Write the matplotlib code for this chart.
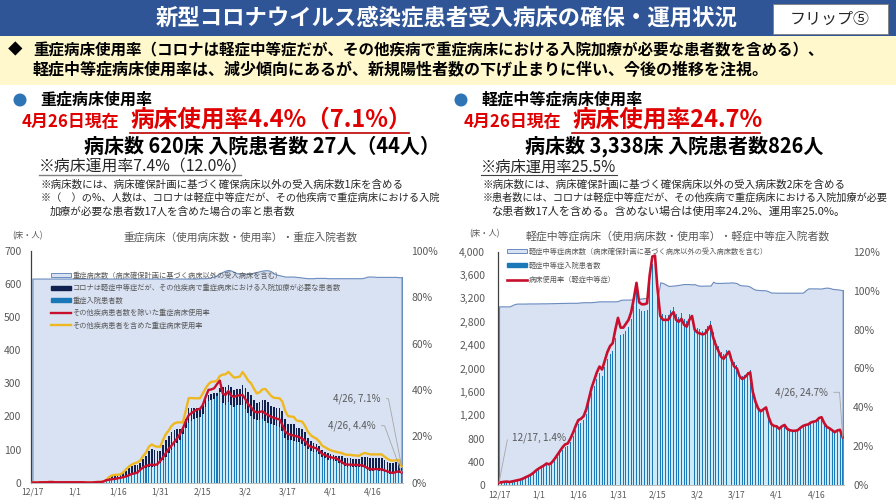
import matplotlib
matplotlib.use('Agg')
import matplotlib.pyplot as plt
from matplotlib.patches import Rectangle, Circle, Patch
from matplotlib.lines import Line2D

plt.rcParams['font.family'] = ['Noto Sans CJK JP', 'DejaVu Sans']

date_ticks = ['12/17', '1/1', '1/16', '1/31', '2/15', '3/2', '3/17', '4/1', '4/16']

# severe beds chart, one value per day 12/17 - 4/26
severe_beds = [616, 616, 616, 616, 616, 616, 616, 616, 616, 616, 616, 616, 616, 616, 616, 616,
               616, 616, 616, 616, 616, 616, 616, 616, 616, 616, 616, 616, 616, 616, 616, 616,
               616, 616, 616, 616, 616, 616, 616, 616, 616, 616, 616, 616, 616, 616, 616, 616,
               616, 616, 616, 616, 616, 616, 616, 616, 616, 616, 616, 617, 617, 617, 618, 620,
               622, 626, 632, 636, 640, 642, 640, 636, 632, 632, 632, 630, 630, 632, 634, 636,
               638, 640, 641, 641, 638, 632, 628, 626, 624, 622, 622, 622, 622, 621, 620, 619,
               618, 617, 617, 617, 618, 618, 618, 618, 617, 617, 617, 617, 617, 617, 617, 617,
               617, 617, 617, 617, 617, 619, 622, 622, 622, 621, 621, 621, 621, 621, 621, 621,
               621, 620, 620]
severe_patients = [0, 0, 0, 0, 0, 0, 0, 0, 0, 0, 0, 0, 0, 0, 0, 0, 0, 0, 0, 0, 0, 0, 0, 0, 0,
                   3, 7, 8, 9, 10, 12, 13, 15, 17, 20, 24, 25, 27, 35, 41, 45, 47, 48, 47, 50,
                   58, 68, 79, 91, 99, 109, 119, 130, 146, 164, 180, 186, 191, 196, 197, 208,
                   229, 248, 249, 252, 263, 273, 239, 234, 245, 233, 229, 233, 234, 234, 223,
                   210, 201, 191, 188, 189, 191, 185, 181, 176, 174, 171, 169, 155, 136, 130,
                   128, 126, 124, 122, 118, 112, 101, 96, 94, 92, 86, 77, 74, 70, 68, 66, 65,
                   60, 55, 50, 48, 48, 48, 48, 47, 47, 43, 39, 36, 36, 37, 36, 36, 33, 30, 27,
                   26, 29, 30, 27]
severe_other = [0, 0, 0, 0, 0, 0, 0, 0, 0, 0, 0, 0, 0, 0, 0, 0, 0, 0, 0, 0, 0, 0, 0, 0, 0, 0, 0,
                7, 10, 11, 9, 9, 13, 19, 24, 25, 27, 27, 25, 30, 36, 49, 54, 51, 47, 38, 47, 51,
                49, 53, 50, 42, 31, 16, 28, 46, 40, 35, 30, 29, 31, 23, 16, 20, 18, 9, 12, 50,
                55, 51, 56, 51, 50, 50, 61, 62, 63, 64, 60, 51, 53, 58, 66, 61, 56, 53, 55, 56,
                62, 56, 48, 49, 50, 42, 43, 45, 40, 35, 31, 27, 26, 25, 22, 20, 20, 19, 18, 17,
                20, 25, 26, 26, 26, 25, 25, 25, 30, 36, 38, 40, 40, 39, 40, 40, 37, 33, 33, 33,
                32, 30, 17]
severe_rate_excl = [0.1, 0.1, 0.1, 0.2, 0.2, 0.2, 0.3, 0.3, 0.2, 0.2, 0.2, 0.2, 0.2, 0.2, 0.2, 0.2,
                    0.2, 0.2, 0.2, 0.1, 0.1, 0.1, 0.2, 0.3, 0.3, 0.5, 1.1, 1.3, 1.5, 1.6, 1.9, 2.1,
                    2.4, 2.7, 3.2, 3.8, 4.0, 4.4, 5.6, 6.6, 7.2, 7.6, 7.8, 7.6, 8.0, 9.3, 11, 12.8,
                    14.6, 16, 17.6, 19.2, 21, 23.5, 26.5, 29, 30, 30.8, 31.6, 31.8, 33.5, 37, 40,
                    40.2, 40.7, 42.5, 44, 38.5, 37.8, 39.5, 37.5, 37, 37.5, 37.7, 37.8, 36, 33.8,
                    32.5, 30.8, 30.3, 30.5, 30.8, 29.8, 29.2, 28.4, 28, 27.6, 27.3, 25, 22, 21,
                    20.6, 20.3, 20, 19.6, 19, 18, 16.3, 15.5, 15.2, 14.8, 13.8, 12.4, 12, 11.3, 11,
                    10.7, 10.5, 9.7, 8.8, 8, 7.8, 7.8, 7.7, 7.7, 7.6, 7.6, 7, 6.3, 5.8, 5.8, 5.9,
                    5.8, 5.8, 5.3, 4.9, 4.4, 4.2, 4.6, 4.9, 4.4]
severe_rate_incl = [0.1, 0.1, 0.1, 0.2, 0.2, 0.2, 0.3, 0.3, 0.2, 0.2, 0.2, 0.2, 0.2, 0.2, 0.2, 0.2,
                    0.2, 0.2, 0.2, 0.1, 0.1, 0.1, 0.2, 0.3, 0.3, 0.5, 1.1, 2.5, 3.1, 3.4, 3.4, 3.6,
                    4.5, 5.8, 7, 7.8, 8.4, 8.8, 9.6, 11.5, 13, 15.5, 16.5, 15.8, 15.5, 15.5, 18.5,
                    21, 22.5, 24.5, 25.6, 26, 26, 26, 31, 36.4, 36.5, 36.4, 36.4, 36.4, 38.5, 40.7,
                    42.5, 43.5, 43.6, 44, 46, 46.6, 46.7, 47.8, 46.5, 45.3, 45.5, 45.7, 47.7, 46,
                    44, 42.8, 40.5, 38.5, 39, 40.2, 40.4, 39, 37.5, 36.6, 36.5, 36.4, 35, 31, 28.7,
                    28.5, 28.4, 26.8, 26.6, 26.3, 24.5, 22, 20.5, 19.6, 19, 17.8, 16, 15.3, 14.6,
                    14, 13.6, 13.3, 13, 12.8, 12.2, 12, 12, 11.8, 11.7, 11.6, 12.4, 12.8, 12.5,
                    12.2, 12.2, 12.2, 12.2, 12.2, 11.2, 10.3, 9.7, 9.5, 9.7, 9.8, 7.1]

# mild / moderate beds chart
mild_beds = [3064, 3064, 3064, 3064, 3064, 3085, 3105, 3112, 3112, 3112, 3112, 3114, 3114, 3114,
             3114, 3115, 3116, 3116, 3116, 3118, 3118, 3120, 3120, 3122, 3122, 3123, 3125, 3125,
             3125, 3125, 3127, 3132, 3135, 3135, 3135, 3136, 3140, 3145, 3150, 3150, 3150, 3150,
             3150, 3150, 3150, 3155, 3175, 3180, 3180, 3180, 3182, 3190, 3195, 3195, 3200, 3205,
             3210, 3215, 3222, 3224, 3225, 3475, 3465, 3440, 3415, 3415, 3420, 3425, 3432, 3440,
             3446, 3446, 3446, 3440, 3445, 3425, 3418, 3418, 3420, 3420, 3420, 3486, 3465, 3465,
             3465, 3468, 3470, 3470, 3475, 3470, 3460, 3430, 3424, 3420, 3418, 3400, 3370, 3350,
             3345, 3342, 3340, 3338, 3320, 3300, 3300, 3298, 3298, 3298, 3298, 3298, 3298, 3298,
             3298, 3298, 3298, 3300, 3340, 3372, 3372, 3372, 3372, 3370, 3370, 3380, 3385, 3380,
             3365, 3360, 3355, 3350, 3338]
mild_patients = [43, 49, 55, 58, 52, 61, 71, 81, 90, 106, 128, 146, 168, 199, 237, 268, 293, 318,
                 349, 334, 368, 421, 484, 546, 609, 656, 672, 750, 845, 955, 1050, 1072, 1115,
                 1225, 1398, 1572, 1700, 1826, 1922, 1875, 2020, 2160, 2256, 2300, 2525, 2715,
                 2580, 2585, 2650, 2715, 2845, 3070, 3330, 3015, 2985, 2985, 3005, 3480, 3790,
                 3800, 3220, 3010, 2930, 2910, 2915, 2995, 3060, 2925, 2890, 2945, 2840, 2810,
                 2930, 2995, 2740, 2685, 2670, 2650, 2670, 2735, 2810, 2620, 2485, 2380, 2280,
                 2245, 2320, 2375, 2210, 2110, 2065, 1915, 1870, 1895, 1945, 1975, 1620, 1450,
                 1325, 1270, 1300, 1335, 1160, 1040, 1005, 1000, 957, 1000, 1025, 957, 934, 924,
                 924, 934, 973, 1030, 1045, 1055, 1090, 1100, 1113, 1163, 1180, 1085, 1015, 990,
                 955, 920, 950, 960, 826]
mild_rate = [1.4, 1.6, 1.8, 1.9, 1.7, 2.0, 2.3, 2.6, 2.9, 3.4, 4.1, 4.7, 5.4, 6.4, 7.6, 8.6, 9.4,
             10.2, 11.2, 10.7, 11.8, 13.5, 15.5, 17.5, 19.5, 21, 21.5, 24, 27, 30.5, 33.5, 34.2,
             35.5, 39, 44.5, 50, 54, 58, 61, 59.5, 64, 68.5, 71.5, 73, 80, 86, 81, 81, 83, 85, 89,
             96, 104, 94, 93, 93, 93.5, 108, 117.5, 118, 100, 87, 85, 85, 85, 87.5, 89, 85, 84,
             85.5, 82.5, 81.5, 85, 87, 80, 78.5, 78, 77.5, 78, 80, 82, 76, 72, 69, 66, 65, 67,
             68.7, 64, 61, 60, 56, 54.6, 55.5, 57, 58, 48, 43, 39.5, 38, 39, 40, 35, 31.5, 30.5,
             30.3, 29, 30.3, 31, 29, 28.3, 28, 28, 28.3, 29.5, 30.5, 31, 31.3, 32.3, 32.7, 33,
             34.5, 35, 32, 30, 29.3, 28.3, 27.3, 28.2, 28.5, 24.7]

GRAY = '#595959'
AREA = '#d9e2f3'
AREA_EDGE = '#6a8cbf'
BAR = '#1a78b8'
BAR_LIGHT = '#cdeaf6'
W, H = 896, 504


def chart_axes(left, top, right, bottom):
    return fig.add_axes([left / W, 1 - bottom / H, (right - left) / W, (bottom - top) / H],
                        facecolor='none')


def style_axes(ax, ax_r, ymax, ystep, rmax, fmt, pad_l, pad_r):
    days = [i + 0.5 for i in range(131)]
    ax.set_xlim(0, 131)
    ax.set_ylim(0, ymax)
    ax_r.set_ylim(0, rmax)
    ax.set_yticks(range(0, ymax + 1, ystep))
    ax.set_yticklabels([fmt.format(v) for v in range(0, ymax + 1, ystep)], fontsize=7.5, color=GRAY)
    ax_r.set_yticks(range(0, rmax + 1, 20))
    ax_r.set_yticklabels([f'{v}%' for v in range(0, rmax + 1, 20)], fontsize=7.5, color=GRAY)
    ax.set_xticks([days[i] for i in range(0, 121, 15)])
    ax.set_xticklabels(date_ticks, fontsize=6.2, color=GRAY)
    ax.tick_params(axis='x', length=0, pad=3.5)
    ax.tick_params(axis='y', length=0, pad=pad_l)
    ax_r.tick_params(length=0, pad=pad_r)
    for a in (ax, ax_r):
        for s in ('top', 'right'):
            a.spines[s].set_visible(False)
        a.spines['left'].set_visible(False)
        a.spines['bottom'].set_color('#bfbfbf')
        a.spines['bottom'].set_linewidth(0.6)
    ax.spines['left'].set_visible(True)
    ax.spines['left'].set_color('#404040')
    ax.spines['left'].set_linewidth(0.9)
    return days


def label(ax, s, xy, xytext, rel, angle, size=7):
    # text position is in pixels from the axes corner, leader has one elbow
    ax.annotate(s, xy=xy, xytext=xytext, textcoords='axes pixels', fontsize=size, color=GRAY,
                va='center', ha='center',
                arrowprops=dict(arrowstyle='-', color='#a6a6a6', lw=0.6, relpos=(rel, 0.5), shrinkA=2,
                                shrinkB=0, connectionstyle=f'angle,angleA=0,angleB={angle},rad=0'))


fig = plt.figure(figsize=(W / 100, H / 100), dpi=100, facecolor='white')

# page furniture in pixel coordinates
bg = fig.add_axes([0, 0, 1, 1], zorder=-1)
bg.set_xlim(0, W)
bg.set_ylim(H, 0)
bg.axis('off')
bg.add_patch(Rectangle((0, 0), W, 36, color='#2f5597', lw=0))
bg.add_patch(Rectangle((0, 36), W, 49, color='#fff8cc', lw=0))
bg.add_patch(Rectangle((773, 4), 115, 30, fc='white', ec='#7f7f7f', lw=0.6))
bg.add_patch(Circle((20, 100), 6.5, color='#2e75b6', lw=0))
bg.add_patch(Circle((461, 100), 6.5, color='#2e75b6', lw=0))
bg.plot([130, 409], [132.5, 132.5], color='#c00000', lw=1.2)
bg.plot([572, 760], [132.5, 132.5], color='#c00000', lw=1.2)
bg.plot([39, 241], [174.5, 174.5], color='#7f7f7f', lw=1)
bg.plot([481, 617], [174.5, 174.5], color='#404040', lw=0.8)


def put(x, y, s, size, color='black', weight='normal', ha='left'):
    bg.text(x, y, s, fontsize=size, color=color, fontweight=weight, ha=ha, va='center')


put(447, 18, '新型コロナウイルス感染症患者受入病床の確保・運用状況', 16.1, 'white', 'bold', 'center')
put(830, 19, 'フリップ⑤', 11.5, '#262626', ha='center')
put(8, 50, '◆', 10.5, 'black')
put(33, 50, '重症病床使用率（コロナは軽症中等症だが、その他疾病で重症病床における入院加療が必要な患者数を含める）、', 11.2, weight='bold')
put(33, 70, '軽症中等症病床使用率は、減少傾向にあるが、新規陽性者数の下げ止まりに伴い、今後の推移を注視。', 11.55, weight='bold')

put(40, 100, '重症病床使用率', 11.5, weight='bold')
put(482, 100, '軽症中等症病床使用率', 11.6, weight='bold')
put(22, 122, '4月26日現在', 12.2, '#e00000', 'bold')
put(464, 122, '4月26日現在', 12.2, '#e00000', 'bold')
put(130, 120, '病床使用率4.4%（7.1%）', 17, '#e00000', 'bold')
put(572, 120, '病床使用率24.7%', 17, '#e00000', 'bold')
put(84, 146, '病床数 620床 入院患者数 27人（44人）', 14.4, weight='bold')
put(525, 146, '病床数 3,338床 入院患者数826人', 14.4, weight='bold')
put(39, 167, '※病床運用率7.4%（12.0%）', 11.4, '#262626')
put(481, 167, '※病床運用率25.5%', 11, '#262626')
put(41, 185, '※病床数には、病床確保計画に基づく確保病床以外の受入病床数1床を含める', 7.55, '#262626')
put(41, 198, '※（　）の%、人数は、コロナは軽症中等症だが、その他疾病で重症病床における入院', 7.35, '#262626')
put(50, 212, '加療が必要な患者数17人を含めた場合の率と患者数', 7.65, '#262626')
put(483, 185, '※病床数には、病床確保計画に基づく確保病床以外の受入病床数2床を含める', 7.55, '#262626')
put(483, 198, '※患者数には、コロナは軽症中等症だが、その他疾病で重症病床における入院加療が必要', 7.3, '#262626')
put(492, 212, 'な患者数17人を含める。含めない場合は使用率24.2%、運用率25.0%。', 8.0, '#262626')

put(240, 237, '重症病床（使用病床数・使用率）・重症入院者数', 7.7, GRAY, ha='center')
put(678, 236, '軽症中等症病床（使用病床数・使用率）・軽症中等症入院者数', 7.8, GRAY, ha='center')
put(12, 236, '(床・人)', 6, GRAY)
put(469, 234, '(床・人)', 6, GRAY)

# left chart: severe
ax1 = chart_axes(31, 250.7, 403, 482.7)
ax1r = ax1.twinx()
d = style_axes(ax1, ax1r, 700, 100, 100, '{}', 7, 6)
ax1.fill_between(d, severe_beds, color=AREA, edgecolor=AREA_EDGE, lw=0.8)
ax1.plot([d[-1], d[-1]], [0, severe_beds[-1]], color=AREA_EDGE, lw=0.8)
ax1.bar(d, severe_patients, width=1.0, color=BAR_LIGHT)
ax1.bar(d, severe_patients, width=0.36, color=BAR)
ax1.bar(d, severe_other, width=0.6, bottom=severe_patients, color='#10204f')
ax1r.plot(d, severe_rate_incl, color='#efb820', lw=1.7)
ax1r.plot(d, severe_rate_excl, color='#c8102e', lw=1.7)
h1 = [Patch(fc=AREA, ec=AREA_EDGE, lw=0.7), Patch(color='#10204f'), Patch(color=BAR),
      Line2D([], [], color='#c8102e', lw=1.7), Line2D([], [], color='#efb820', lw=1.7)]
l1 = ['重症病床数（病床確保計画に基づく病床以外の受入病床を含む）',
      'コロナは軽症中等症だが、その他疾病で重症病床における入院加療が必要な患者数',
      '重症入院患者数', 'その他疾病患者数を除いた重症病床使用率', 'その他疾病患者を含めた重症病床使用率']
ax1r.legend(h1, l1, loc='upper left', bbox_to_anchor=(20 / 372, 1 - 21 / 232), frameon=False,
            fontsize=5.2, labelcolor=GRAY, handlelength=2.7, handleheight=0.5, handletextpad=0.3,
            labelspacing=0.62, borderpad=0, borderaxespad=0)
label(ax1r, '4/26, 7.1%', (d[-1], severe_rate_incl[-1]), (326, 84), 1, 101)
label(ax1r, '4/26, 4.4%', (d[-1], severe_rate_excl[-1]), (321, 57), 1, 110)

# right chart: mild / moderate
ax2 = chart_axes(497.7, 251.7, 844, 485.3)
ax2r = ax2.twinx()
d = style_axes(ax2, ax2r, 4000, 400, 120, '{:,}', 9, 6.5)
ax2.fill_between(d, mild_beds, color=AREA, edgecolor=AREA_EDGE, lw=0.8)
ax2.plot([d[-1], d[-1]], [0, mild_beds[-1]], color=AREA_EDGE, lw=0.8)
ax2.bar(d, mild_patients, width=1.0, color=BAR_LIGHT)
ax2.bar(d, mild_patients, width=0.36, color=BAR)
ax2r.plot(d, mild_rate, color='#c8102e', lw=1.9)
h2 = [Patch(fc=AREA, ec=AREA_EDGE, lw=0.7), Patch(color=BAR), Line2D([], [], color='#c8102e', lw=1.9)]
l2 = ['軽症中等症病床数（病床確保計画に基づく病床以外の受入病床数を含む）', '軽症中等症入院患者数', '病床使用率（軽症中等症）']
ax2r.legend(h2, l2, loc='upper left', bbox_to_anchor=(9.5 / 346, 1 + 4 / 234), frameon=False,
            fontsize=5.2, labelcolor=GRAY, handlelength=2.7, handleheight=0.5, handletextpad=0.3,
            labelspacing=0.85, borderpad=0, borderaxespad=0)
label(ax2r, '12/17, 1.4%', (d[0], mild_rate[0]), (41, 48), 0, 79, 7.2)
label(ax2r, '4/26, 24.7%', (d[-1], mild_rate[-1]), (304, 93), 1, 94)

fig.savefig('out.png', dpi=100)
